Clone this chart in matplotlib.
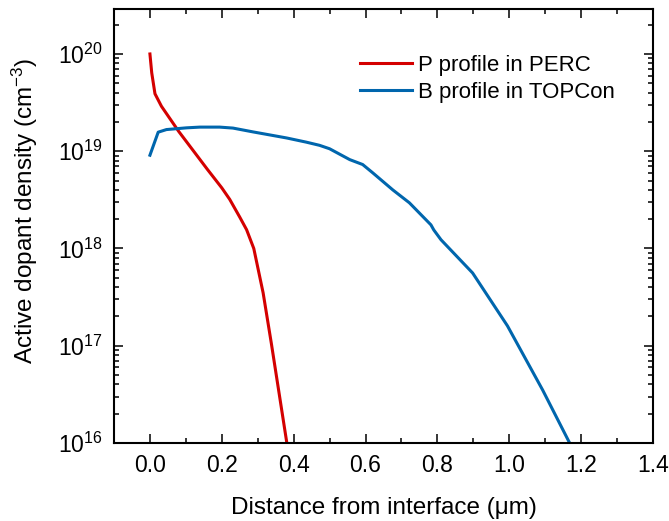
import matplotlib
matplotlib.use("Agg")
import matplotlib.pyplot as plt
from matplotlib.ticker import LogLocator, MultipleLocator, NullFormatter

plt.rcParams['font.family'] = ['Liberation Sans', 'DejaVu Sans']
plt.rcParams['mathtext.default'] = 'regular'

# P profile in PERC
p_x = [0.0, 0.005, 0.014, 0.032, 0.06, 0.08, 0.12, 0.16, 0.2, 0.222, 0.25, 0.269, 0.289, 0.315, 0.338, 0.381]
p_y = [1.0e20, 6.4e19, 3.9e19, 2.9e19, 2.05e19, 1.6e19, 1.02e19, 6.5e18, 4.2e18, 3.2e18, 2.1e18, 1.56e18, 1.0e18, 3.5e17, 1.05e17, 1.0e16]

# B profile in TOPCon
b_x = [0.0, 0.023, 0.046, 0.102, 0.139, 0.194, 0.231, 0.287, 0.343, 0.38, 0.435, 0.472, 0.5, 0.556,
       0.592, 0.62, 0.676, 0.722, 0.782, 0.79, 0.81, 0.898, 0.995, 1.093, 1.168]
b_y = [9.1e18, 1.57e19, 1.67e19, 1.74e19, 1.77e19, 1.77e19, 1.73e19, 1.58e19, 1.45e19, 1.37e19, 1.24e19, 1.15e19, 1.06e19, 8.2e18,
       7.3e18, 6.0e18, 4.0e18, 2.95e18, 1.75e18, 1.55e18, 1.23e18, 5.6e17, 1.6e17, 3.5e16, 1.0e16]

labels = ["P profile in PERC", "B profile in TOPCon"]
colors = ["#d40000", "#0066ad"]
x_ticks = [0.0, 0.2, 0.4, 0.6, 0.8, 1.0, 1.2, 1.4]
x_ticklabels = ["0.0", "0.2", "0.4", "0.6", "0.8", "1.0", "1.2", "1.4"]

fig = plt.figure(figsize=(6.69, 5.21), dpi=100)
ax = fig.add_axes([114/669, 1-443/521, (653-114)/669, (443-9)/521])

ax.plot(p_x, p_y, color=colors[0], lw=2.2, label=labels[0])
ax.plot(b_x, b_y, color=colors[1], lw=2.2, label=labels[1])

ax.set_yscale('log')
ax.set_xlim(-0.1, 1.4)
ax.set_ylim(1e16, 2.9e20)

ax.set_xticks(x_ticks)
ax.set_xticklabels(x_ticklabels)
ax.xaxis.set_minor_locator(MultipleLocator(0.1))
ax.yaxis.set_major_locator(LogLocator(base=10, numticks=20))
ax.yaxis.set_minor_locator(LogLocator(base=10, subs=range(2, 10), numticks=20))
ax.yaxis.set_minor_formatter(NullFormatter())

ax.tick_params(which='both', direction='in', top=True, right=True, labelsize=16.5, width=1.1)
ax.tick_params(which='major', length=6.5, pad=8)
ax.tick_params(which='minor', length=3.5)
for s in ax.spines.values():
    s.set_linewidth(1.5)

ax.set_xlabel("Distance from interface (μm)", fontsize=17.5)
ax.xaxis.set_label_coords(0.5, -0.125)
ax.set_ylabel("Active dopant density (cm$^{-3}$)", fontsize=17.5)
ax.yaxis.set_label_coords(-0.138, 0.535)

ax.legend(loc='upper left', frameon=False, fontsize=16, handlelength=2.35,
          handletextpad=0.27, labelspacing=0.25, borderpad=0, borderaxespad=0,
          bbox_to_anchor=((360-114)/539, (443-55)/434))

fig.savefig("out.png", dpi=100)
